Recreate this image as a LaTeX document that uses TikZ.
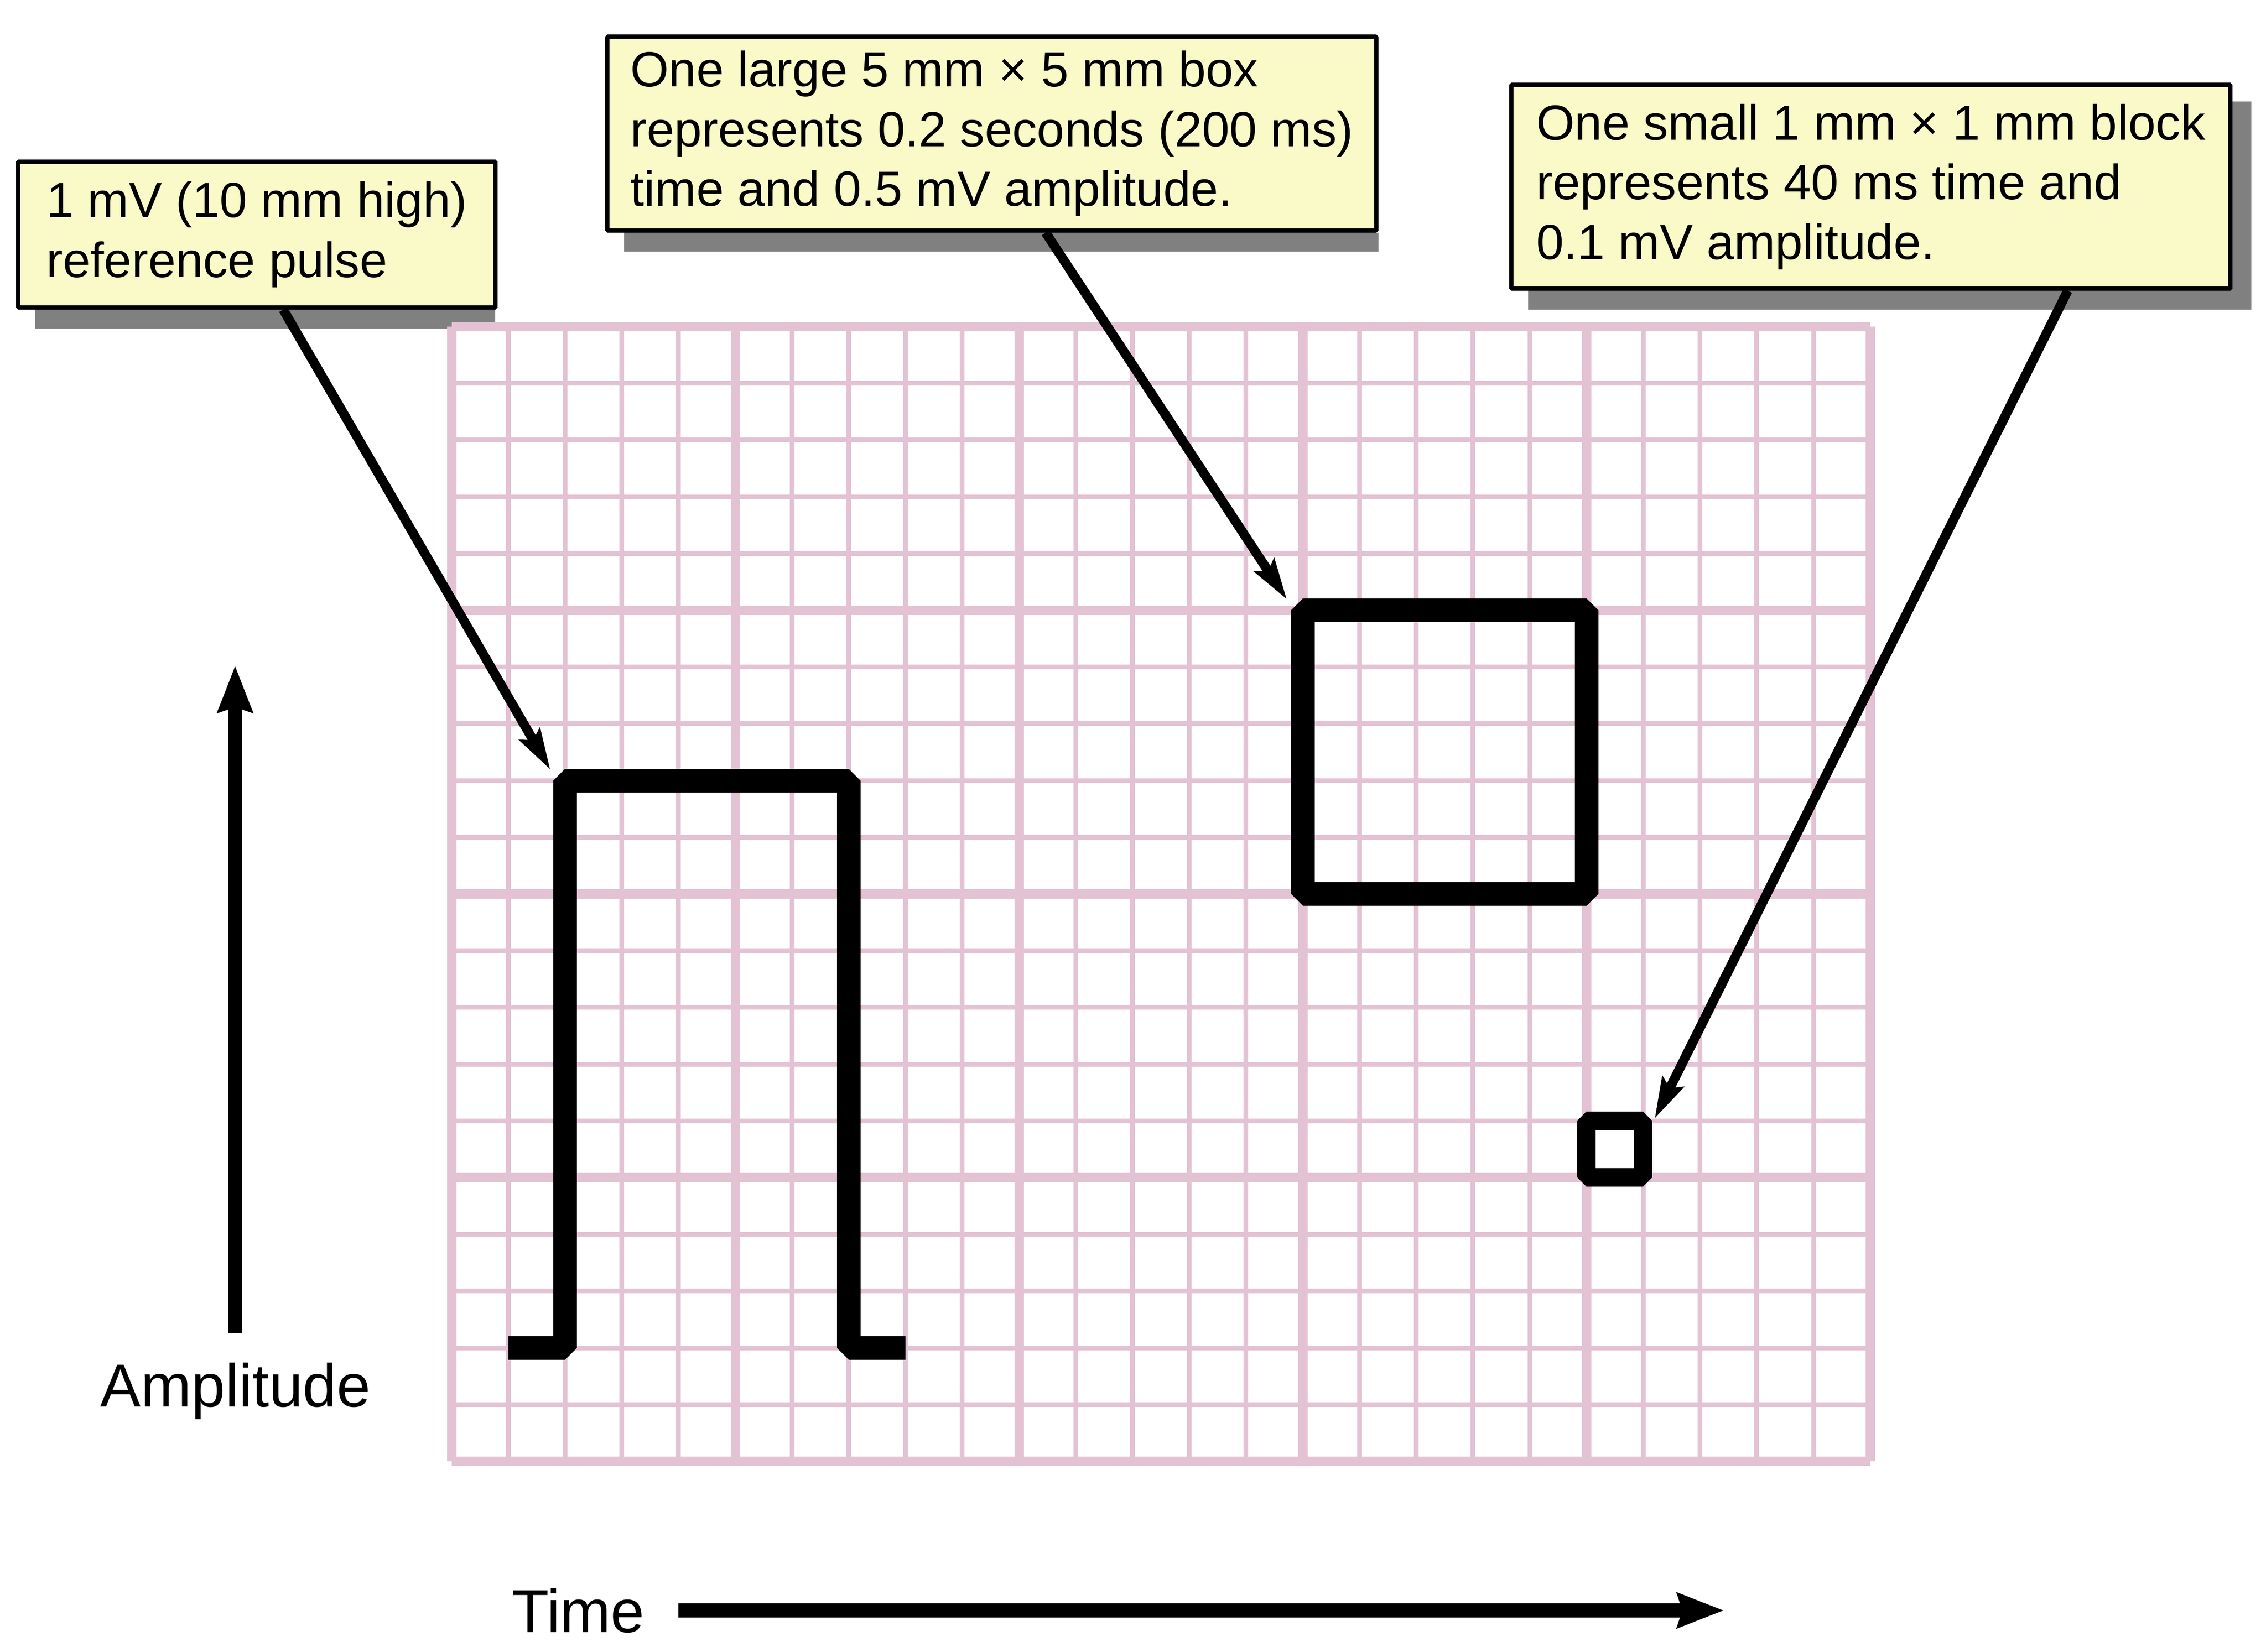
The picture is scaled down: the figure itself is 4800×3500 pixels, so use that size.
\documentclass[tikz,border=0pt]{standalone}
\usepackage{fontspec}
\setmainfont{Liberation Sans}
\usetikzlibrary{arrows.meta,calc,backgrounds}

\definecolor{ecgpink}{RGB}{227,194,212}
\definecolor{notefill}{RGB}{250,250,200}
\definecolor{shadowgray}{RGB}{128,128,128}

\tikzset{
  note/.style={draw=black, line width=0.45mm, fill=notefill, align=left, line join=bevel, inner sep=0pt, font=\fontsize{14.9}{18}\selectfont},
  pointer/.style={line width=1mm, -{Stealth[length=4.3mm,width=2.45mm,inset=0.7mm]}},
  axis/.style={line width=1.5mm, -{Stealth[length=4.9mm,width=3.6mm,inset=0.5mm]}},
  trace/.style={line width=2.5mm, line join=bevel},
  axislabel/.style={font=\fontsize{18.3}{22}\selectfont, inner sep=0pt}
}

\begin{document}
\begin{tikzpicture}[x=0.05mm, y=-0.05mm]
  \useasboundingbox (0,0) rectangle (4800,3500);

  %ecg paper
  \begin{scope}[shift={(956.6,3096)}, x=6.01mm, y=6.01mm]
    \foreach \i in {0,...,25} \draw[ecgpink, line width=0.5mm] (\i,0) -- (\i,20);
    \foreach \j in {0,...,20} \draw[ecgpink, line width=0.5mm] (0,\j) -- (25,\j);
    \foreach \i in {0,5,...,25} \draw[ecgpink, line width=1mm] (\i,0) -- (\i,20);
    \foreach \j in {0,5,...,20} \draw[ecgpink, line width=1mm] (0,\j) -- (25,\j);

    %pulse and boxes
    \draw[trace] (1,2) -- (2,2) -- (2,12) -- (7,12) -- (7,2) -- (8,2);
    \draw[trace] (15,10) rectangle (20,15);
    \draw[trace, line width=1.95mm] (20,5) rectangle (21,6);

    \coordinate (pulsetip) at (1.74,12.19);
    \coordinate (largetip) at (14.72,15.19);
    \coordinate (smalltip) at (21.2,6.04);
  \end{scope}

  %notes
  \node[note, minimum width=50.55mm, minimum height=15.45mm] (pulsenote) at (544,497)
    {1 mV (10 mm high)\\reference pulse};
  \node[note, minimum width=81.45mm, minimum height=20.55mm] (largenote) at (2101,283)
    {One large 5 mm × 5 mm box\\represents 0.2 seconds (200 ms)\\time and 0.5 mV amplitude.};
  \node[note, minimum width=76.15mm, minimum height=21.6mm] (smallnote) at (3963,395.5)
    {One small 1 mm × 1 mm block\\represents 40 ms time and\\0.1 mV amplitude.};

  \begin{scope}[on background layer]
    \fill[shadowgray] ($(pulsenote.south west)+(40,0)$) rectangle ($(pulsenote.south east)+(-5,40)$);
    \fill[shadowgray] ($(largenote.south west)+(40,0)$) rectangle ($(largenote.south east)+(0,40)$);
    \fill[shadowgray] ($(smallnote.north west)+(40,40)$) rectangle ($(smallnote.south east)+(40,40)$);
  \end{scope}

  \draw[pointer] ($(pulsenote.south)+(56,0)$) -- (pulsetip);
  \draw[pointer] ($(largenote.south)+(114,0)$) -- (largetip);
  \draw[pointer] ($(smallnote.south)+(417,0)$) -- (smalltip);

  %axes
  \node[axislabel, anchor=base] (amplabel) at (499,2980) {Amplitude};
  \node[axislabel, anchor=base west] (timelabel) at (1083,3458) {Time};
  \coordinate (ampstart) at (498,2825);
  \coordinate (ampend) at (498,1410);
  \coordinate (timestart) at (1437,3412);
  \coordinate (timeend) at (3652,3412);
  \draw[axis] (ampstart) -- (ampend);
  \draw[axis] (timestart) -- (timeend);

\end{tikzpicture}
\end{document}
